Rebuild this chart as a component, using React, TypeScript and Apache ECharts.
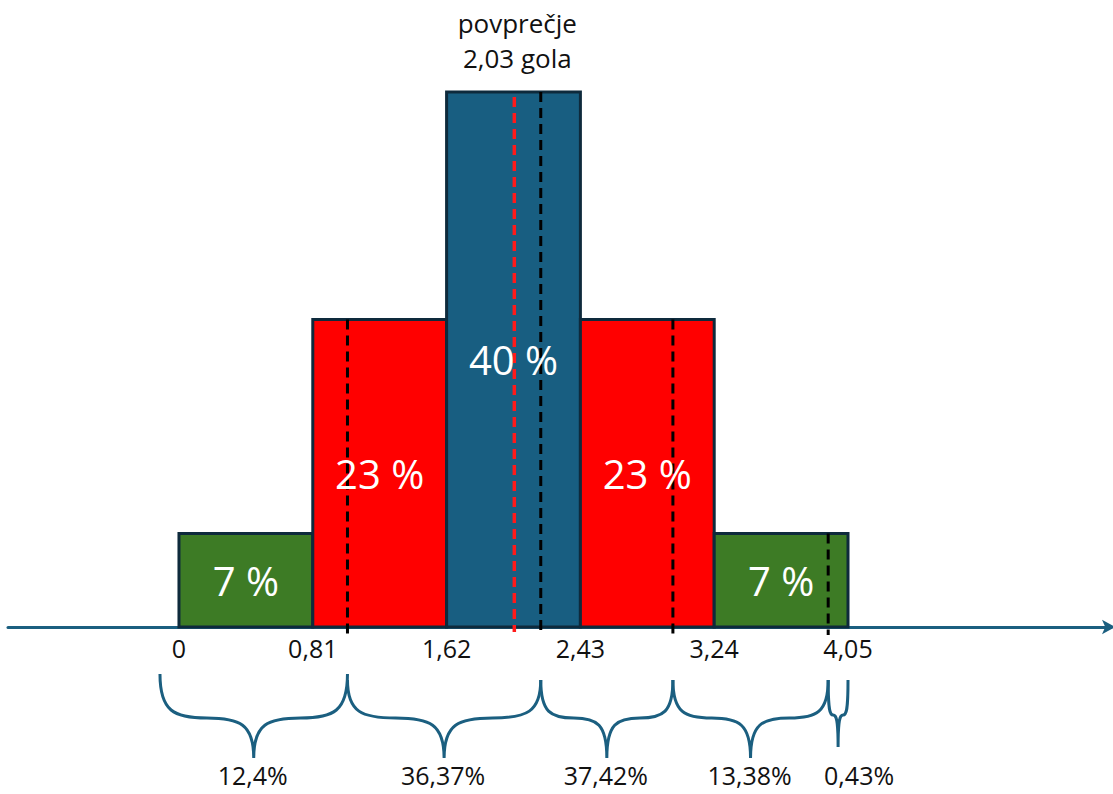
import { useEffect, useRef } from "react";
import * as echarts from "echarts";

// ---- data ----
const binEdges = [0, 0.81, 1.62, 2.43, 3.24, 4.05];
const binShares = [7, 23, 40, 23, 7];
const binLabels = ["7 %", "23 %", "40 %", "23 %", "7 %"];
const tickValues = [0, 0.81, 1.62, 2.43, 3.24, 4.05];
const meanGoals = 2.03;
const meanText = ["povprečje", "2,03 gola"];
const markerValues = [1.02, 2.19, 2.99, 3.93];
const braceEdges = [-0.115, 1.02, 2.19, 2.99, 3.93, 4.05];
const braceLabels = ["12,4%", "36,37%", "37,42%", "13,38%", "0,43%"];

// ---- styles ----
const binColors = ["#3d7b25", "#ff0000", "#185e81", "#ff0000", "#3d7b25"];
const borderColor = "#0e2a3c";
const axisColor = "#1b5f80";
const FONT = "'Open Sans', 'Noto Sans', sans-serif";

function shareAt(x: number): number {
  for (let i = 0; i < binShares.length; i++) {
    if (x >= binEdges[i] && x < binEdges[i + 1]) return binShares[i];
  }
  return 0;
}

export default function App() {
  const ref = useRef<HTMLDivElement>(null);
  useEffect(() => {
    if (!ref.current) return;
    const chart = echarts.init(ref.current, undefined, { renderer: "svg" });

    const barData = binShares.map((v, i) => [binEdges[i], binEdges[i + 1], v, i]);
    const markerData = [
      ...markerValues.map((x) => [x, shareAt(x), 0]),
      [meanGoals, shareAt(meanGoals), 1],
    ];
    const braceData = braceLabels.map((_, i) => [braceEdges[i], braceEdges[i + 1], i]);

    chart.setOption({
      animation: false,
      grid: { left: 8, right: 2, top: 92, bottom: 167, containLabel: false },
      xAxis: {
        type: "value",
        min: -1.035,
        max: 5.642,
        splitLine: { show: false },
        axisTick: { show: false },
        axisLine: {
          show: true,
          onZero: false,
          lineStyle: { color: axisColor, width: 3 },
          symbol: ["none", "arrow"],
          symbolSize: [11, 13],
          symbolOffset: [0, 4],
        },
        axisLabel: {
          customValues: tickValues,
          formatter: (v: number) => String(v).replace(".", ","),
          color: "#111",
          fontSize: 25,
          fontFamily: FONT,
          margin: 8,
        },
      },
      yAxis: { type: "value", min: 0, max: 40, show: false },
      series: [
        {
          type: "custom",
          data: barData,
          z: 3,
          renderItem: (_p: any, api: any) => {
            const x0 = api.value(0), x1 = api.value(1), h = api.value(2), idx = api.value(3);
            const a = api.coord([x0, 0]);
            const b = api.coord([x1, h]);
            return {
              type: "rect",
              shape: { x: a[0], y: b[1], width: b[0] - a[0], height: a[1] - b[1] },
              style: { fill: binColors[idx], stroke: borderColor, lineWidth: 3 },
            };
          },
        },
        {
          type: "custom",
          data: markerData,
          z: 4,
          renderItem: (_p: any, api: any) => {
            const x = api.value(0), top = api.value(1), isMean = api.value(2);
            const a = api.coord([x, 0]);
            const b = api.coord([x, top]);
            return {
              type: "line",
              shape: { x1: a[0], y1: isMean ? b[1] + 5 : b[1], x2: a[0], y2: a[1] + (isMean ? 5 : 8) },
              style: { stroke: isMean ? "#ff1a1a" : "#000", lineWidth: isMean ? 3.5 : 3, lineDash: [10, 6] },
            };
          },
        },
        {
          type: "custom",
          data: barData,
          z: 5,
          renderItem: (_p: any, api: any) => {
            const x0 = api.value(0), x1 = api.value(1), h = api.value(2), idx = api.value(3);
            const a = api.coord([x0, 0]);
            const b = api.coord([x1, h]);
            return {
              type: "text",
              style: {
                text: binLabels[idx],
                x: (a[0] + b[0]) / 2,
                y: (a[1] + b[1]) / 2,
                align: "center",
                verticalAlign: "middle",
                fill: "#fff",
                fontSize: 40,
                fontFamily: FONT,
              },
            };
          },
        },
        {
          type: "custom",
          data: [[meanGoals, 40]],
          z: 5,
          renderItem: (_p: any, api: any) => {
            const p = api.coord([api.value(0), api.value(1)]);
            return {
              type: "text",
              style: {
                text: meanText.join("\n"),
                x: p[0] + 3,
                y: p[1] - 52,
                align: "center",
                verticalAlign: "middle",
                fill: "#111",
                fontSize: 26,
                lineHeight: 35,
                fontFamily: FONT,
              },
            };
          },
        },
        {
          type: "custom",
          data: braceData,
          z: 5,
          renderItem: (_p: any, api: any) => {
            const x0v = api.value(0), x1v = api.value(1), idx = api.value(2);
            const a = api.coord([x0v, 0]);
            const b = api.coord([x1v, 0]);
            const axisY = a[1];
            const x0 = a[0], x1 = b[0];
            const xm = (x0 + x1) / 2;
            const narrow = x1 - x0 < 40;
            const y0 = axisY + (idx === 0 ? 47 : 53);
            const ym = axisY + (narrow ? 88 : 91);
            const yt = axisY + (narrow ? 120 : 131);
            const hl = xm - x0, hr = x1 - xm;
            const d =
              `M${x0},${y0} C${x0},${y0 + 0.85 * (ym - y0)} ${x0 + 0.15 * hl},${ym} ${x0 + 0.5 * hl},${ym} ` +
              `C${x0 + 0.85 * hl},${ym} ${xm},${ym + 0.15 * (yt - ym)} ${xm},${yt} ` +
              `C${xm},${ym + 0.15 * (yt - ym)} ${x1 - 0.85 * hr},${ym} ${x1 - 0.5 * hr},${ym} ` +
              `C${x1 - 0.15 * hr},${ym} ${x1},${y0 + 0.85 * (ym - y0)} ${x1},${y0}`;
            return {
              type: "group",
              children: [
                {
                  type: "path",
                  shape: { pathData: d },
                  style: { fill: "none", stroke: axisColor, lineWidth: 3 },
                },
                {
                  type: "text",
                  style: {
                    text: braceLabels[idx],
                    x: narrow ? xm + 21 : xm - 1,
                    y: axisY + 148,
                    align: "center",
                    verticalAlign: "middle",
                    fill: "#111",
                    fontSize: 25,
                    lineHeight: 26,
                    fontFamily: FONT,
                  },
                },
              ],
            };
          },
        },
      ],
    });
    return () => chart.dispose();
  }, []);
  return (
    <div
      ref={ref}
      style={{ position: "fixed", left: 0, top: 0, width: 1113, height: 794, background: "#fff" }}
    />
  );
}
